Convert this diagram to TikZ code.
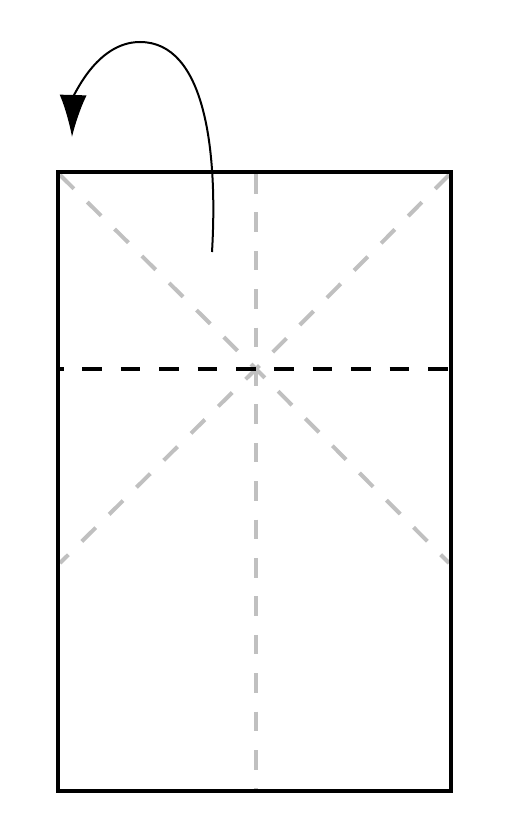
\documentclass[tikz,border=0pt]{standalone}
\usepackage{tikz}
\usetikzlibrary{arrows.meta, calc}
\definecolor{plieguegris}{RGB}{192,192,192}
\tikzstyle{hoja} = [line width=2pt, draw=black]
\tikzstyle{pliegue} = [line width=2pt, draw=black, dash pattern=on 9.75pt off 9.45pt]
\tikzstyle{marca} = [line width=2pt, draw=plieguegris, dash pattern=on 9.75pt off 9.45pt]
\tikzstyle{giro} = [line width=1pt, -{Latex[length=21pt, width=13.5pt]}]

\begin{document}
\begin{tikzpicture}[x=0.5pt, y=-0.5pt]
    \useasboundingbox (0,0) rectangle (512,813);
    % Hoja
    \coordinate (so) at (58,172);
    \coordinate (se) at (451,172);
    \coordinate (io) at (58,791);
    \coordinate (ie) at (451,791);
    \coordinate (c) at (256,369);

    % Marcas
    \draw [marca] (60,175) -- (c) -- (449,563);
    \draw [marca] (449,175) -- (c) -- (60,563);
    \draw [marca] (256,174) -- (256,789);

    % Pliegue
    \draw [pliegue, dash phase=8pt] (60,369) -- (449,369);

    \draw [hoja] (so) rectangle (ie);

    % Flecha
    \coordinate (ini) at (212,252);
    \coordinate (fin) at (72,137);
    \draw [giro] (ini) .. controls (218,150) and (205,42) .. (140,42)
        .. controls (95,42) and (73,100) .. (fin);
\end{tikzpicture}
\end{document}
